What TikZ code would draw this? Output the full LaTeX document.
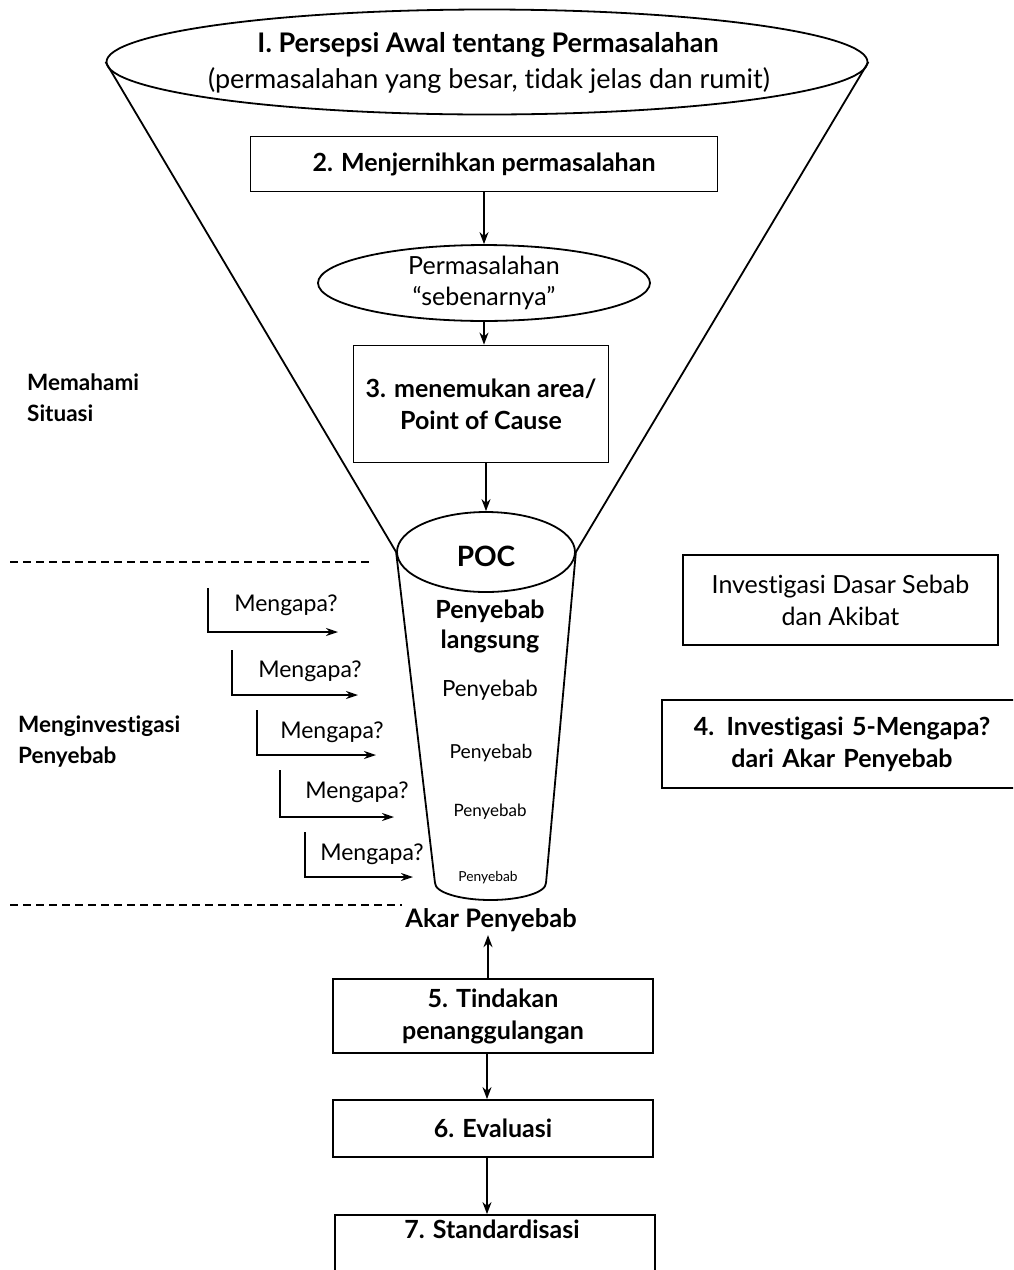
\documentclass[tikz,border=0pt]{standalone}
\usepackage{fontspec}
\setmainfont{Lato}[Ligatures={NoCommon,NoDiscretionary,NoRare}]
\usetikzlibrary{shapes.geometric,arrows.meta}
\newcommand{\fsz}[2]{\fontsize{#1}{#2}\selectfont}
\tikzset{
  ln/.style={line width=1.8pt},
  arr/.style={ln,-{Stealth[length=12pt,width=9pt]}},
  warr/.style={ln,-{Stealth[length=12pt,width=8pt]}},
  box/.style={draw,ln,rectangle,inner sep=0pt,align=center},
  ell/.style={draw,ln,ellipse,inner sep=0pt,align=center},
  bt/.style={font=\bfseries\fsz{25}{32}},
  lab/.style={font=\bfseries\fsz{22.5}{31},align=left,anchor=west,inner sep=0pt},
  why/.style={font=\fsz{23}{26},inner sep=0pt},
  dsh/.style={line width=1.3pt,dash pattern=on 8pt off 5pt},
}
\begin{document}
\begin{tikzpicture}[x=1pt,y=-1pt]
\fill[white] (0,0) rectangle (1013,1270);
\clip (0,0) rectangle (1013,1270);
% top ellipse
\node[ell,minimum width=761pt,minimum height=105pt] (e1) at (487,62) {};
\node[font=\bfseries\fsz{27}{35}] (t1) at (488,45) {I. Persepsi Awal tentang Permasalahan};
\node[font=\fsz{27}{35}] (t1b) at (489,80) {(permasalahan yang besar, tidak jelas dan rumit)};
% box 2
\node[box,bt,minimum width=467pt,minimum height=55pt] (b2) at (484,164) {2. Menjernihkan permasalahan};
% ellipse sebenarnya
\node[ell,minimum width=332pt,minimum height=63pt,font=\fsz{25}{31}] (e2) at (484,283) {Permasalahan\\``sebenarnya''};
% box 3
\node[box,bt,minimum width=255pt,minimum height=117pt] (b3) at (481,404) {3. menemukan area/\\Point of Cause};
% POC ellipse
\node[ell,minimum width=178pt,minimum height=80pt] (poc) at (486,552) {};
\node[font=\bfseries\fsz{28}{30}] (poct) at (486,556) {POC};
% funnel sides
\draw[ln] (e1.west) -- (poc.west);
\draw[ln] (e1.east) -- (poc.east);
% cylinder
\coordinate (cl) at (435,883);
\coordinate (cr) at (546,883);
\draw[ln] (poc.west) -- (cl);
\draw[ln] (poc.east) -- (cr);
\draw[ln] (cr) arc[start angle=0,end angle=-180,x radius=55.5pt,y radius=17pt];
% cylinder texts
\node[font=\bfseries\fsz{25}{30},align=center] (pl) at (490,626) {Penyebab\\langsung};
\node[font=\fsz{22.3}{24}] (p1) at (490,690) {Penyebab};
\node[font=\fsz{19.3}{22}] (p2) at (491,753) {Penyebab};
\node[font=\fsz{17}{19}] (p3) at (490,812) {Penyebab};
\node[font=\fsz{13.8}{16}] (p4) at (488,878) {Penyebab};
% arrows in funnel
\draw[arr] (b2.south) -- (e2.north);
\draw[arr] (e2.south) -- (e2.south |- b3.north);
\draw[arr] (b3.south -| poc.north) -- (poc.north);
% dashed separators
\coordinate (d1a) at (10,562); \coordinate (d1b) at (370,562);
\coordinate (d2a) at (10,905); \coordinate (d2b) at (402,905);
\draw[dsh] (d1a) -- (d1b);
\draw[dsh] (d2a) -- (d2b);
% left labels
\node[lab] (l1) at (27,398) {Memahami\\Situasi};
\node[lab] (l2) at (18,742) {Menginvestigasi\\Penyebab};
% Mengapa arrows
\coordinate (m1s) at (208,588); \coordinate (m1e) at (338,632);
\coordinate (m2s) at (232,650); \coordinate (m2e) at (358,695);
\coordinate (m3s) at (257,710); \coordinate (m3e) at (376,755);
\coordinate (m4s) at (280,770); \coordinate (m4e) at (394,817);
\coordinate (m5s) at (305,832); \coordinate (m5e) at (413,877);
\draw[warr] (m1s) |- (m1e);
\draw[warr] (m2s) |- (m2e);
\draw[warr] (m3s) |- (m3e);
\draw[warr] (m4s) |- (m4e);
\draw[warr] (m5s) |- (m5e);
\node[why] (w1) at (286,605) {Mengapa?};
\node[why] (w2) at (310,671) {Mengapa?};
\node[why] (w3) at (332,732) {Mengapa?};
\node[why] (w4) at (357,792) {Mengapa?};
\node[why] (w5) at (372,854) {Mengapa?};
% right boxes
\node[box,font=\fsz{25}{32},minimum width=315pt,minimum height=90pt] (ra) at (840.5,600) {Investigasi Dasar Sebab\\dan Akibat};
\node[box,bt,minimum width=360pt,minimum height=88pt,text width=340pt] (rb) at (842,744) {4. Investigasi 5-Mengapa?\\dari Akar Penyebab};
% bottom part
\node[font=\bfseries\fsz{25.5}{28}] (akar) at (491,920) {Akar Penyebab};
\node[box,bt,minimum width=320pt,minimum height=74pt] (b5) at (493,1016) {5. Tindakan\\penanggulangan};
\node[box,bt,minimum width=320pt,minimum height=57pt] (b6) at (493,1128.5) {6. Evaluasi};
\node[draw,ln,rectangle,inner sep=0pt,minimum width=320pt,minimum height=80pt] (b7) at (495,1255) {};
\node[bt] (b7t) at (492,1229) {7. Standardisasi};
\draw[arr] (b5.north -| akar.south) ++(-3,0) coordinate (a5) (a5) -- (a5 |- akar.south);
\draw[arr] (b5.south -| 487,0) coordinate (a6s) -- (a6s |- b6.north);
\draw[arr] (b6.south -| 487,0) coordinate (a7s) -- (a7s |- b7.north);
\end{tikzpicture}
\end{document}
